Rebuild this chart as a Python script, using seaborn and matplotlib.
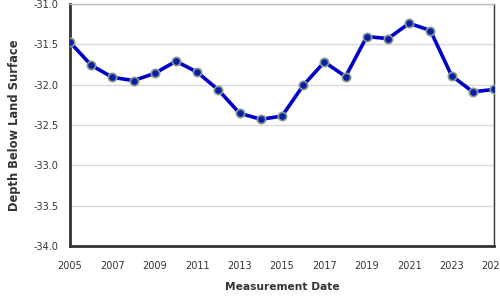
import matplotlib
matplotlib.use("Agg")
import matplotlib.pyplot as plt
import seaborn as sns
import pandas as pd

years = list(range(2005, 2026))
depth = [-31.475, -31.76, -31.91, -31.95, -31.86, -31.71, -31.846, -32.066, -32.355,
         -32.43, -32.39, -32.01, -31.72, -31.90, -31.405, -31.43, -31.24, -31.33,
         -31.89, -32.09, -32.06]
xticks = list(range(2005, 2026, 2))
yticks = [-34.0, -33.5, -33.0, -32.5, -32.0, -31.5, -31.0]

df = pd.DataFrame({"year": years, "depth": depth})

sns.set_style("white")
plt.rcParams["font.family"] = ["DejaVu Sans"]

fig = plt.figure(figsize=(5, 3), dpi=100)
ax = fig.add_axes([0.14, 0.18, 0.848, 0.807])

sns.lineplot(data=df, x="year", y="depth", ax=ax, color="#0000cc", linewidth=2.6,
             marker="o", markersize=6, markerfacecolor="#0a1fa8",
             markeredgecolor="#8c9c8c", markeredgewidth=1.2, zorder=3)

ax.set_xlim(2005, 2025)
ax.set_ylim(-34.0, -31.0)
ax.set_xticks(xticks)
ax.set_xticklabels([str(t) for t in xticks])
ax.set_yticks(yticks)
ax.set_yticklabels([f"{t:.1f}" for t in yticks])
ax.yaxis.grid(True, color="#d9d9d9", linewidth=1)
ax.set_axisbelow(True)

ax.tick_params(axis="both", labelsize=7, colors="#333333", length=6, width=1, direction="out")
ax.tick_params(axis="x", pad=5)
ax.tick_params(axis="y", pad=2)
for s in ["left", "bottom"]:
    ax.spines[s].set_color("#333333")
    ax.spines[s].set_linewidth(2)
ax.spines["right"].set_color("#333333")
ax.spines["right"].set_linewidth(1)
ax.spines["top"].set_color("#bbbbbb")
ax.spines["top"].set_linewidth(1)

ax.set_xlabel("Measurement Date", fontsize=7.7, fontweight="bold", color="#333333", labelpad=8)
ax.set_ylabel("Depth Below Land Surface", fontsize=8.3, fontweight="bold", color="#333333", labelpad=9)

fig.savefig("out.png", dpi=100)
